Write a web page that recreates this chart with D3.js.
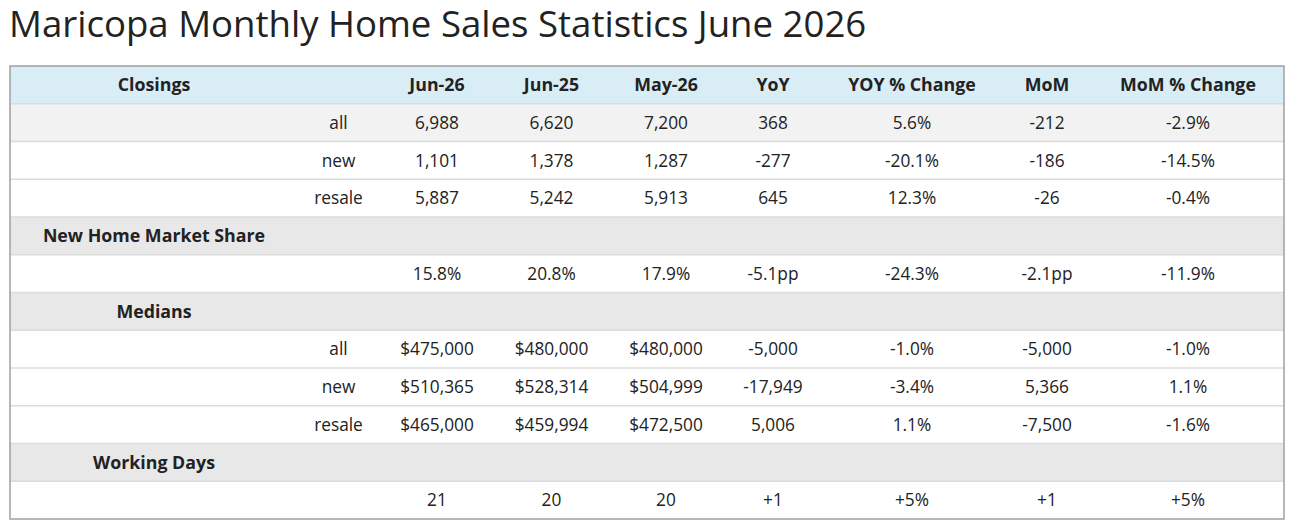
<!DOCTYPE html>
<html>
<head>
<meta charset="utf-8">
<script src="https://cdn.jsdelivr.net/npm/d3@7"></script>
<style>
  html, body { margin: 0; padding: 0; background: #fff; }
  svg { display: block; }
  text { font-family: "Open Sans", "Noto Sans", sans-serif; fill: #222; }
</style>
</head>
<body>
<svg id="chart" width="1302" height="526"></svg>
<script>
// ---- data ----
const title = "Maricopa Monthly Home Sales Statistics June 2026";
const headers = ["Closings", "", "Jun-26", "Jun-25", "May-26", "YoY", "YOY % Change", "MoM", "MoM % Change"];
const closingsLabels = ["all", "new", "resale"];
const closingsJun26 = ["6,988", "1,101", "5,887"];
const closingsJun25 = ["6,620", "1,378", "5,242"];
const closingsMay26 = ["7,200", "1,287", "5,913"];
const closingsYoY = ["368", "-277", "645"];
const closingsYoYPct = ["5.6%", "-20.1%", "12.3%"];
const closingsMoM = ["-212", "-186", "-26"];
const closingsMoMPct = ["-2.9%", "-14.5%", "-0.4%"];
const shareRow = ["15.8%", "20.8%", "17.9%", "-5.1pp", "-24.3%", "-2.1pp", "-11.9%"];
const medianLabels = ["all", "new", "resale"];
const medianJun26 = ["$475,000", "$510,365", "$465,000"];
const medianJun25 = ["$480,000", "$528,314", "$459,994"];
const medianMay26 = ["$480,000", "$504,999", "$472,500"];
const medianYoY = ["-5,000", "-17,949", "5,006"];
const medianYoYPct = ["-1.0%", "-3.4%", "1.1%"];
const medianMoM = ["-5,000", "5,366", "-7,500"];
const medianMoMPct = ["-1.0%", "1.1%", "-1.6%"];
const workingDaysRow = ["21", "20", "20", "+1", "+5%", "+1", "+5%"];
const sections = ["New Home Market Share", "Medians", "Working Days"];

// ---- build rows ----
const rows = [];
rows.push({type: "header", cells: headers});
closingsLabels.forEach((l, i) => rows.push({type: i === 0 ? "shaded" : "plain", cells: ["", l, closingsJun26[i], closingsJun25[i], closingsMay26[i], closingsYoY[i], closingsYoYPct[i], closingsMoM[i], closingsMoMPct[i]]}));
rows.push({type: "section", cells: [sections[0]]});
rows.push({type: "plain", cells: ["", ""].concat(shareRow)});
rows.push({type: "section", cells: [sections[1]]});
medianLabels.forEach((l, i) => rows.push({type: "plain", cells: ["", l, medianJun26[i], medianJun25[i], medianMay26[i], medianYoY[i], medianYoYPct[i], medianMoM[i], medianMoMPct[i]]}));
rows.push({type: "section", cells: [sections[2]]});
rows.push({type: "plain", cells: ["", ""].concat(workingDaysRow)});

// ---- layout ----
const svg = d3.select("#chart");
const tableLeft = 10, tableRight = 1284, tableTop = 66, tableBottom = 519;

svg.append("text")
  .attr("x", 9).attr("y", 37)
  .attr("font-size", 36.6)
  .attr("font-weight", 400)
  .style("fill", "#222")
  .text(title);

const y = d3.scaleBand().domain(d3.range(rows.length)).range([tableTop, tableBottom]).paddingInner(0);
const colX = d3.scaleOrdinal().domain(d3.range(headers.length))
  .range([154, 338.5, 437, 551.5, 666, 773, 912, 1047, 1188]);

const fills = {header: "#d9edf7", shaded: "#f2f2f2", section: "#e8e8e8", plain: "#ffffff"};

const g = svg.append("g");
const rowG = g.selectAll("g.row").data(rows).join("g").attr("class", "row")
  .attr("transform", (d, i) => `translate(0,${y(i)})`);

rowG.append("rect")
  .attr("x", tableLeft).attr("y", 0)
  .attr("width", tableRight - tableLeft).attr("height", y.bandwidth())
  .attr("fill", d => fills[d.type]);

rowG.filter((d, i) => i > 0).append("line")
  .attr("x1", tableLeft).attr("x2", tableRight)
  .attr("y1", 0).attr("y2", 0)
  .attr("stroke", "#dcdcdc").attr("stroke-width", 1.5);

rowG.each(function(d) {
  const sel = d3.select(this);
  const bold = (d.type === "header" || d.type === "section");
  sel.selectAll("text").data(d.cells.map((c, j) => ({c, j})).filter(o => o.c !== ""))
    .join("text")
    .attr("x", o => colX(o.j))
    .attr("y", y.bandwidth() / 2)
    .attr("dy", "0.36em")
    .attr("text-anchor", "middle")
    .attr("font-size", bold ? 17.8 : 17.3)
    .attr("font-weight", bold ? 700 : 400)
    .text(o => o.c);
});

g.append("rect")
  .attr("x", tableLeft).attr("y", tableTop)
  .attr("width", tableRight - tableLeft).attr("height", tableBottom - tableTop)
  .attr("fill", "none").attr("stroke", "#a0a0a0").attr("stroke-width", 1.5);
</script>
</body>
</html>
